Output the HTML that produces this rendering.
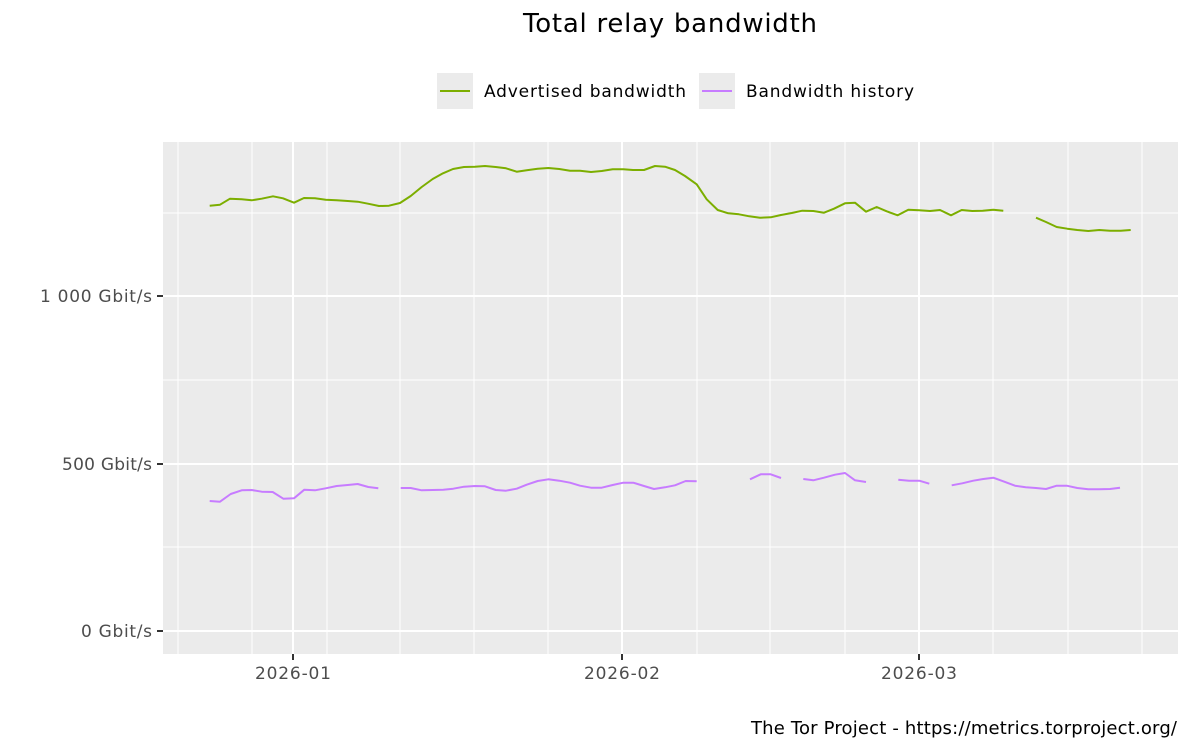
<!DOCTYPE html>
<html><head><meta charset="utf-8"><style>body{margin:0;background:#fff}svg{display:block}</style></head><body>
<svg width="1200" height="750" xmlns="http://www.w3.org/2000/svg" font-family="DejaVu Sans, Liberation Sans, sans-serif">
<rect width="1200" height="750" fill="#fff"/>
<text x="670" y="32" font-size="26" text-anchor="middle" textLength="294" fill="#000">Total relay bandwidth</text>
<rect x="437" y="73" width="36" height="36" fill="#ebebeb"/>
<line x1="440" y1="91" x2="470" y2="91" stroke="#7cae00" stroke-width="2"/>
<text x="484" y="97" font-size="17" textLength="202" fill="#000">Advertised bandwidth</text>
<rect x="699" y="73" width="36" height="36" fill="#ebebeb"/>
<line x1="702" y1="91" x2="732" y2="91" stroke="#c77cff" stroke-width="2"/>
<text x="746" y="97" font-size="17" textLength="168" fill="#000">Bandwidth history</text>
<rect x="163" y="142" width="1015" height="512" fill="#ebebeb"/>
<g stroke="#fff" stroke-width="1">
<line x1="163" x2="1178" y1="547" y2="547"/><line x1="163" x2="1178" y1="380" y2="380"/><line x1="163" x2="1178" y1="213" y2="213"/>
<line x1="178" x2="178" y1="142" y2="654"/><line x1="252" x2="252" y1="142" y2="654"/><line x1="327" x2="327" y1="142" y2="654"/><line x1="400" x2="400" y1="142" y2="654"/><line x1="474" x2="474" y1="142" y2="654"/><line x1="548" x2="548" y1="142" y2="654"/><line x1="697" x2="697" y1="142" y2="654"/><line x1="770" x2="770" y1="142" y2="654"/><line x1="845" x2="845" y1="142" y2="654"/><line x1="993" x2="993" y1="142" y2="654"/><line x1="1068" x2="1068" y1="142" y2="654"/><line x1="1142" x2="1142" y1="142" y2="654"/>
</g>
<g stroke="#fff" stroke-width="2">
<line x1="163" x2="1178" y1="631" y2="631"/><line x1="163" x2="1178" y1="464" y2="464"/><line x1="163" x2="1178" y1="296" y2="296"/>
<line x1="293" x2="293" y1="142" y2="654"/><line x1="622" x2="622" y1="142" y2="654"/><line x1="919" x2="919" y1="142" y2="654"/>
</g>
<g fill="none" stroke="#7cae00" stroke-width="2" stroke-linejoin="round">
<polyline points="209.7,205.7 220,204.7 230,198.7 241.7,199.3 251.7,200.3 261.7,198.7 273,196.3 283,198.3 294,202.7 304,198 315,198.3 325.7,199.7 336.7,200.3 347.7,201 357.7,201.7 368,203.7 379,206 389,205.7 400,203 410.7,196 421.7,187 432.7,179 443,173.3 453,169 464,167 475,166.7 485,166 495.7,167 506,168.3 516.7,171.7 526.7,170.3 537.7,168.7 548.3,168 559.3,169 570,170.7 580,170.7 591,172 601.7,171 612.7,169.3 623.3,169.3 633,170 644,170 655,166 665,166.7 675,170 685,176 696.7,184.3 706.7,199.3 717.7,210 728.3,213.3 739,214.3 749.3,216.3 760,217.7 770.7,217.3 781,215 791.7,213 802.3,210.7 813.3,211 824,212.7 834,208.7 845,203.3 855,202.7 866,211.7 876.7,207 886.7,211.3 897.7,215.3 908.3,209.7 919.3,210.3 930,211 940,210 951,215.3 961.7,210 972.3,211 982.7,210.7 993.3,209.7 1003.3,210.7"/>
<polyline points="1036,217.7 1046,222 1056.7,227 1067.3,228.7 1077.3,230 1088.3,231 1099.3,230 1110,230.7 1120.7,230.7 1130.7,230"/>
</g>
<g fill="none" stroke="#c77cff" stroke-width="2" stroke-linejoin="round">
<polyline points="209.7,501 220,501.7 230.7,494 241.7,490.3 251.7,490 261.7,491.7 272.7,492 283.3,498.7 294,498.3 304.3,489.7 315,490.3 325.7,488.3 336.7,486 347.7,485 357.7,484 368.3,487 378.3,488.3"/>
<polyline points="400.7,488 410.7,488 421.7,490.3 432.7,490 443.3,489.7 453.3,488.7 464,486.7 475,486 485,486.3 495.7,490 506,490.7 516.7,488.7 526.7,484.7 537.7,481 548.3,479.3 559.3,480.7 570,482.7 580,485.7 591,487.7 601.7,487.7 612.7,485 623.3,482.7 633.3,482.7 644,486 654,489 665,487.3 675,485.3 685.7,481 696.7,481.3"/>
<polyline points="750,479.3 760.7,474.3 770.7,474.3 781,478"/>
<polyline points="803.3,479 813.3,480.3 824,477.7 835,474.7 845,473 855,480.3 866,482"/>
<polyline points="898.3,479.7 909,480.7 919.3,480.7 929.3,483.7"/>
<polyline points="951.7,485.3 962.3,483.3 973.3,480.7 983.3,479 993.3,477.7 1004.3,481.7 1015,485.7 1025.7,487.3 1036,488 1046,489 1056.7,485.7 1066.7,485.7 1077.3,488 1088.3,489.3 1099.3,489.3 1110,489 1120,487.7"/>
</g>
<g stroke="#333" stroke-width="2">
<line x1="157" x2="163" y1="631" y2="631"/><line x1="157" x2="163" y1="464" y2="464"/><line x1="157" x2="163" y1="296" y2="296"/>
<line x1="293" x2="293" y1="654" y2="660"/><line x1="622" x2="622" y1="654" y2="660"/><line x1="919" x2="919" y1="654" y2="660"/>
</g>
<g font-size="17" fill="#4d4d4d" text-anchor="end">
<text x="152" y="637" textLength="71">0 Gbit/s</text><text x="152" y="470" textLength="90">500 Gbit/s</text><text x="152" y="302" textLength="112">1 000 Gbit/s</text>
</g>
<g font-size="17" fill="#4d4d4d" text-anchor="middle">
<text x="293" y="679" textLength="76">2026-01</text><text x="622" y="679" textLength="76">2026-02</text><text x="919" y="679" textLength="76">2026-03</text>
</g>
<text x="1177" y="734" font-size="18" text-anchor="end" textLength="426" fill="#000">The Tor Project - https://metrics.torproject.org/</text>
</svg>
</body></html>
